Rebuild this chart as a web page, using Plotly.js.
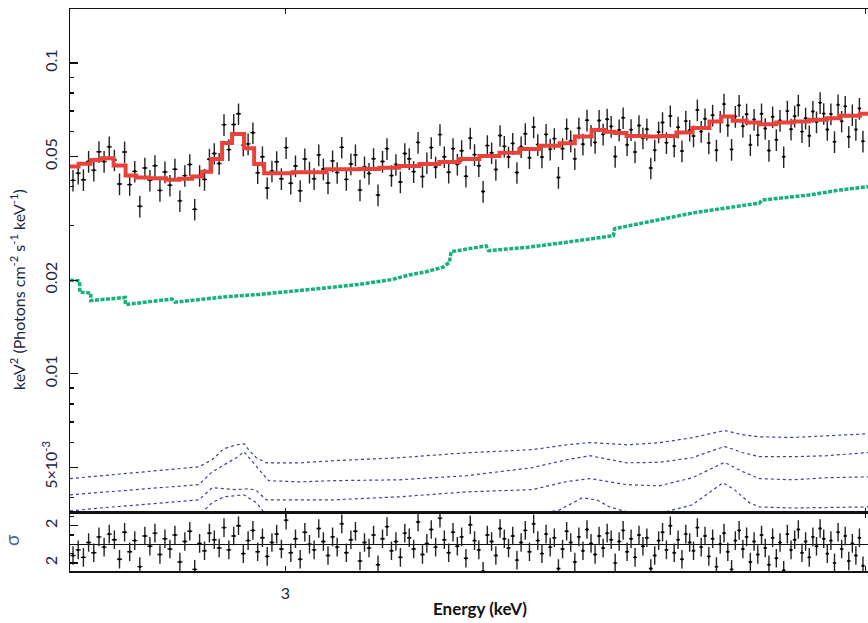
<!DOCTYPE html>
<html>
<head>
<meta charset="utf-8">
<script src="https://cdn.plot.ly/plotly-3.0.1.min.js"></script>
<style>html,body{margin:0;padding:0;background:#fff;}#chart{width:868px;height:623px;}</style>
</head>
<body>
<div id="chart"></div>
<script>
// Channel energies (keV), bin half-width 0.0035 keV
const energy = [
2.700,2.707,2.714,2.721,2.728,2.735,2.742,2.749,2.756,2.763,
2.770,2.777,2.784,2.791,2.798,2.805,2.812,2.819,2.826,2.833,
2.840,2.847,2.854,2.861,2.868,2.875,2.882,2.889,2.896,2.903,
2.910,2.917,2.924,2.931,2.938,2.945,2.952,2.959,2.966,2.973,
2.980,2.987,2.994,3.001,3.008,3.015,3.022,3.029,3.036,3.043,
3.050,3.057,3.064,3.071,3.078,3.085,3.092,3.099,3.106,3.113,
3.120,3.127,3.134,3.141,3.148,3.155,3.162,3.169,3.176,3.183,
3.190,3.197,3.204,3.211,3.218,3.225,3.232,3.239,3.246,3.253,
3.260,3.267,3.274,3.281,3.288,3.295,3.302,3.309,3.316,3.323,
3.330,3.337,3.344,3.351,3.358,3.365,3.372,3.379,3.386,3.393,
3.400,3.407,3.414,3.421,3.428,3.435,3.442,3.449,3.456,3.463,
3.470,3.477,3.484,3.491,3.498,3.505,3.512,3.519,3.526,3.533,
3.540,3.547,3.554,3.561,3.568,3.575,3.582,3.589,3.596,3.603,
3.610,3.617,3.624,3.631,3.638,3.645,3.652,3.659,3.666,3.673,
3.680,3.687,3.694,3.701,3.708,3.715,3.722,3.729,3.736,3.743,
3.750,3.757,3.764,3.771,3.778,3.785,3.792,3.799,3.806,3.813,
3.820,3.827,3.834,3.841,3.848,3.855,3.862,3.869,3.876,3.883,
3.890,3.897,3.904,3.911,3.918,3.925,3.932,3.939,3.946,3.953,
3.960,3.967,3.974,3.981,3.988,3.995];

// Unfolded data, keV^2 (Photons cm^-2 s^-1 keV^-1)
const flux = [
0.0419,0.0442,0.0421,0.0482,0.0452,0.0518,0.0482,0.0537,0.0487,0.0408,
0.0517,0.0406,0.0448,0.0346,0.0459,0.0419,0.0467,0.0389,0.0446,0.0404,
0.0455,0.0360,0.0434,0.0471,0.0338,0.0434,0.0422,0.0490,0.0511,0.0475,
0.0633,0.0526,0.0634,0.0686,0.0544,0.0549,0.0596,0.0443,0.0499,0.0396,
0.0449,0.0481,0.0424,0.0534,0.0410,0.0466,0.0388,0.0491,0.0445,0.0424,
0.0506,0.0456,0.0411,0.0484,0.0444,0.0535,0.0422,0.0473,0.0506,0.0390,
0.0463,0.0441,0.0492,0.0376,0.0482,0.0530,0.0434,0.0471,0.0414,0.0511,
0.0492,0.0447,0.0555,0.0431,0.0477,0.0534,0.0462,0.0588,0.0499,0.0445,
0.0530,0.0472,0.0522,0.0432,0.0573,0.0507,0.0467,0.0386,0.0542,0.0514,
0.0454,0.0584,0.0539,0.0498,0.0551,0.0444,0.0537,0.0592,0.0495,0.0622,
0.0546,0.0498,0.0589,0.0528,0.0571,0.0428,0.0530,0.0614,0.0561,0.0492,
0.0617,0.0548,0.0654,0.0585,0.0555,0.0653,0.0590,0.0659,0.0625,0.0500,
0.0609,0.0666,0.0545,0.0610,0.0517,0.0629,0.0573,0.0612,0.0459,0.0524,
0.0599,0.0643,0.0554,0.0675,0.0540,0.0621,0.0521,0.0650,0.0607,0.0582,
0.0706,0.0602,0.0661,0.0553,0.0679,0.0524,0.0648,0.0737,0.0629,0.0527,
0.0673,0.0730,0.0626,0.0684,0.0545,0.0658,0.0586,0.0686,0.0615,0.0523,
0.0671,0.0566,0.0653,0.0499,0.0700,0.0612,0.0674,0.0731,0.0601,0.0664,
0.0583,0.0698,0.0646,0.0745,0.0687,0.0611,0.0685,0.0558,0.0733,0.0649,
0.0725,0.0579,0.0681,0.0611,0.0714,0.0560];

// Residuals (sigma)
const resid = [
-1.2,-0.6,-1.4,0.2,-0.9,0.8,-0.3,1.1,0.5,-1.6,
1.3,-0.8,0.4,-2.4,0.9,-0.2,1.2,-1.1,0.6,-0.5,
1.0,-1.9,0.3,1.4,-2.7,0.1,-0.7,1.2,0.5,-0.4,
1.8,-0.6,0.9,2.0,-1.0,0.4,1.5,-0.8,0.7,-1.3,
0.2,1.1,-0.5,2.6,-0.9,0.6,-1.6,1.3,0.0,-0.6,
1.7,0.3,-1.2,0.8,-0.3,2.2,-0.9,0.5,1.4,-1.8,
0.2,-0.4,1.0,-2.2,0.6,1.9,-0.7,0.3,-1.4,1.2,
0.7,-0.5,2.4,-1.1,0.1,1.6,-0.3,2.8,0.5,-0.9,
1.3,-0.2,0.8,-1.5,2.1,0.4,-0.6,-2.9,1.0,0.3,
-1.2,1.7,0.6,-0.4,0.9,-1.7,0.2,1.5,-0.8,2.2,
0.4,-1.0,1.1,-0.3,0.7,-2.6,-0.5,1.4,0.2,-1.9,
0.8,-0.7,1.6,0.1,-1.1,0.9,-0.4,1.2,0.5,-2.0,
0.3,1.5,-0.8,0.6,-1.4,1.0,-0.2,0.7,-2.6,-1.2,
0.4,1.3,-0.6,2.0,-0.9,0.5,-1.6,1.1,0.2,-0.7,
1.8,-0.3,0.9,-1.3,0.6,-2.4,0.0,1.2,-0.8,-2.7,
0.4,1.5,-0.5,0.8,-1.9,0.3,-1.1,1.0,-0.4,-2.2,
0.7,-1.5,0.2,-2.8,1.1,-0.6,0.5,1.6,-0.9,0.3,
-1.4,0.8,-0.2,1.7,0.6,-1.0,0.4,-2.0,1.3,-0.5,
0.9,-1.8,0.1,-1.2,0.7,-2.3];

// Total model (step)
const modelE = [2.696,2.7075,2.7237,2.7372,2.7549,2.7714,2.7861,2.8037,2.8275,2.8459,2.8643,2.8786,2.8915,2.9073,2.9217,2.9392,2.9538,2.9685,3.0104,3.0615,3.112,3.143,3.174,3.206,3.238,3.270,3.303,3.336,3.369,3.403,3.437,3.463,3.492,3.515,3.532,3.553,3.585,3.611,3.642,3.671,3.702,3.724,3.745,3.771,3.795,3.827,3.858,3.890,3.924,3.949,3.989,4.005];
const modelF = [0.0464,0.0474,0.0487,0.0494,0.0468,0.0434,0.0428,0.0426,0.0421,0.0424,0.0431,0.0447,0.0491,0.0553,0.0591,0.0532,0.0473,0.0442,0.0445,0.0455,0.0456,0.0460,0.0466,0.0473,0.0480,0.0491,0.0502,0.0514,0.0529,0.0541,0.0552,0.0580,0.0609,0.0601,0.0595,0.0582,0.0580,0.0582,0.0597,0.0617,0.0648,0.0672,0.0652,0.0643,0.0635,0.0643,0.0648,0.0656,0.0664,0.0676,0.0686,0.0688];

// Continuum component (green)
const contE = [2.696,2.709,2.709,2.724,2.724,2.771,2.771,2.836,2.840,2.913,2.961,3.010,3.062,3.112,3.163,3.190,3.217,3.243,3.254,3.257,3.314,3.318,3.381,3.437,3.530,3.532,3.611,3.671,3.730,3.795,3.800,3.890,3.949,4.005];
const contF = [0.0200,0.0199,0.0183,0.0182,0.0172,0.0176,0.0167,0.0174,0.0170,0.0177,0.0180,0.0184,0.0189,0.0194,0.0201,0.0208,0.0213,0.0220,0.0228,0.0247,0.0258,0.0249,0.0255,0.0263,0.0278,0.0293,0.0313,0.0329,0.0341,0.0354,0.0362,0.0376,0.0390,0.0400];

// Line components (blue dotted)
const comp1E = [2.696,2.874,2.893,2.910,2.928,2.939,2.947,2.957,2.972,3.021,3.071,3.174,3.282,3.391,3.449,3.489,3.553,3.611,3.671,3.715,3.730,3.763,3.795,3.858,3.924,4.005];
const comp1F = [0.00460,0.00502,0.00529,0.00574,0.00591,0.00596,0.00565,0.00537,0.00517,0.00517,0.00525,0.00537,0.00557,0.00570,0.00591,0.00601,0.00591,0.00600,0.00623,0.00651,0.00657,0.00637,0.00627,0.00624,0.00632,0.00641];
const comp2E = [2.696,2.874,2.893,2.928,2.939,2.957,2.975,3.021,3.071,3.174,3.282,3.391,3.449,3.489,3.553,3.611,3.671,3.730,3.763,3.795,3.858,3.924,4.005];
const comp2F = [0.00408,0.00440,0.00484,0.00537,0.00561,0.00502,0.00453,0.00449,0.00453,0.00456,0.00470,0.00499,0.00529,0.00545,0.00517,0.00519,0.00537,0.00584,0.00558,0.00541,0.00541,0.00545,0.00558];
const comp3E = [2.696,2.736,2.874,2.893,2.928,2.947,2.957,2.972,3.071,3.174,3.282,3.391,3.449,3.489,3.553,3.611,3.671,3.730,3.763,3.795,3.858,3.924,4.005];
const comp3F = [0.00362,0.00370,0.00393,0.00430,0.00424,0.00427,0.00421,0.00393,0.00393,0.00402,0.00417,0.00424,0.00450,0.00460,0.00440,0.00436,0.00463,0.00519,0.00485,0.00460,0.00456,0.00463,0.00466];
const comp4E = [2.696,2.874,2.893,2.910,2.939,2.957,2.972,3.391,3.437,3.476,3.501,3.523,3.553,3.611,3.671,3.727,3.748,3.776,3.795,3.858,4.005];
const comp4F = [0.00340,0.00350,0.00385,0.00402,0.00408,0.00385,0.00350,0.00350,0.00365,0.00399,0.00393,0.00373,0.00360,0.00355,0.00379,0.00446,0.00424,0.00385,0.00373,0.00370,0.00373];

const yTickVals = [0.005, 0.01, 0.02, 0.05, 0.1];
const yTickText = ['5×10<sup>-3</sup>', '0.01', '0.02', '0.05', '0.1'];
const yMinorVals = [0.004, 0.006, 0.007, 0.008, 0.009, 0.03, 0.04, 0.06, 0.07, 0.08, 0.09];
const xTickVals = [3, 4];
const xTickText = ['3', '4'];
const rTickVals = [-2, 2];
const rTickText = ['2', '2'];
const rMinorVals = [-1, 1, 3];

const BLUE = '#3d3f9e';
const blueLine = {color: BLUE, width: 1.2, dash: 'dot'};
const traces = [
  {x: comp1E, y: comp1F, xaxis: 'x', yaxis: 'y', mode: 'lines', line: blueLine},
  {x: comp2E, y: comp2F, xaxis: 'x', yaxis: 'y', mode: 'lines', line: blueLine},
  {x: comp3E, y: comp3F, xaxis: 'x', yaxis: 'y', mode: 'lines', line: blueLine},
  {x: comp4E, y: comp4F, xaxis: 'x', yaxis: 'y', mode: 'lines', line: blueLine},
  {x: contE, y: contF, xaxis: 'x', yaxis: 'y', mode: 'lines',
   line: {color: '#17b27a', width: 3.5, dash: '4px,1.5px'}},
  {x: energy, y: flux, xaxis: 'x', yaxis: 'y', mode: 'markers',
   marker: {color: '#000', size: 2.5},
   error_y: {type: 'percent', value: 8, thickness: 1.4, width: 0, color: '#222'},
   error_x: {type: 'constant', value: 0.0035, thickness: 1.4, width: 0, color: '#222'}},
  {x: modelE, y: modelF, xaxis: 'x', yaxis: 'y', mode: 'lines',
   line: {color: '#e8433b', width: 4, shape: 'hv'}},
  {x: energy, y: resid, xaxis: 'x2', yaxis: 'y2', mode: 'markers',
   marker: {color: '#000', size: 2.5},
   error_y: {type: 'constant', value: 1, thickness: 1.4, width: 0, color: '#222'},
   error_x: {type: 'constant', value: 0.0035, thickness: 1.4, width: 0, color: '#222'}}
];

const AX = '#111';
const FAM = 'Lato, "Open Sans", sans-serif';
const xRange = [Math.log10(2.696), Math.log10(4.005)];
const splitFrac = 0.1037;
const tickFont = {family: FAM, size: 16, color: '#1c2540'};

const layout = {
  width: 868, height: 623,
  margin: {l: 70, r: 0, t: 9, b: 52, pad: 0},
  paper_bgcolor: '#fff', plot_bgcolor: '#fff',
  showlegend: false,
  font: tickFont,
  xaxis: {type: 'log', range: xRange, domain: [0, 1], anchor: 'y',
    showline: true, linecolor: AX, linewidth: 1.5, mirror: 'ticks',
    ticks: 'inside', ticklen: 5, tickwidth: 1.2, tickcolor: AX,
    tickmode: 'array', tickvals: xTickVals, showticklabels: false,
    showgrid: false, zeroline: false},
  yaxis: {type: 'log', domain: [splitFrac, 1], anchor: 'x',
    range: [Math.log10(0.003573), Math.log10(0.1491)],
    showline: true, linecolor: AX, linewidth: 1.5,
    ticks: 'inside', ticklen: 8, tickwidth: 1.2, tickcolor: AX,
    tickmode: 'array', tickvals: yTickVals, ticktext: yTickText,
    tickangle: -90, tickfont: tickFont, ticklabelstandoff: 5,
    minor: {tickmode: 'array', tickvals: yMinorVals, ticks: 'inside', ticklen: 4, tickcolor: AX, tickwidth: 1.2, showgrid: false},
    showgrid: false, zeroline: false},
  xaxis2: {type: 'log', range: xRange, domain: [0, 1], anchor: 'y2', matches: 'x',
    showline: true, linecolor: AX, linewidth: 1.5, mirror: 'ticks',
    ticks: 'inside', ticklen: 5, tickwidth: 1.2, tickcolor: AX,
    tickmode: 'array', tickvals: xTickVals, ticktext: xTickText,
    tickfont: tickFont, ticklabelstandoff: 7,
    showgrid: false, zeroline: false},
  yaxis2: {domain: [0, splitFrac], anchor: 'x2', range: [-2.87, 3.4],
    showline: true, linecolor: AX, linewidth: 1.5,
    ticks: 'inside', ticklen: 8, tickwidth: 1.2, tickcolor: AX,
    tickmode: 'array', tickvals: rTickVals, ticktext: rTickText,
    tickangle: -90, tickfont: tickFont, ticklabelstandoff: 5,
    minor: {tickmode: 'array', tickvals: rMinorVals, ticks: 'inside', ticklen: 4, tickcolor: AX, tickwidth: 1.2, showgrid: false},
    showgrid: false, zeroline: true, zerolinecolor: AX, zerolinewidth: 1.5},
  annotations: [
    {xref: 'paper', yref: 'paper', x: -0.0652, y: 0.5018, xanchor: 'center', yanchor: 'middle',
     textangle: -90, showarrow: false,
     text: 'keV<sup>2</sup> (Photons cm<sup>-2</sup> s<sup>-1</sup> keV<sup>-1</sup>)',
     font: {family: FAM, size: 16, color: '#1c2540'}},
    {xref: 'paper', yref: 'paper', x: -0.0727, y: 0.0552, xanchor: 'center', yanchor: 'middle',
     textangle: -90, showarrow: false, text: 'σ',
     font: {family: FAM, size: 19, color: '#4a6a9a'}},
    {xref: 'paper', yref: 'paper', x: 0.5138, y: -0.0676, xanchor: 'center', yanchor: 'middle',
     showarrow: false, text: '<b>Energy (keV)</b>',
     font: {family: FAM, size: 17, color: '#111'}}
  ]
};

Plotly.newPlot('chart', traces, layout, {staticPlot: true, displayModeBar: false});
</script>
</body>
</html>
